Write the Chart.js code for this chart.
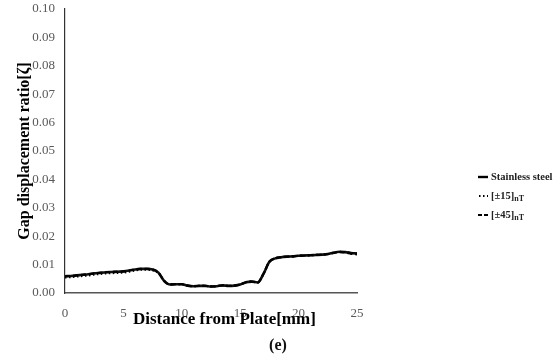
<!DOCTYPE html>
<html>
<head>
<meta charset="utf-8">
<script src="https://cdn.jsdelivr.net/npm/chart.js@4"></script>
<style>
  html, body { margin: 0; padding: 0; background: #fff; }
  #wrap { position: relative; width: 556px; height: 364px; }
  canvas { position: absolute; left: 0; top: 0; }
  #legend { position: absolute; left: 478px; top: 167px; font-family: "Liberation Serif", serif; font-weight: bold; font-size: 10.5px; color: #222; }
  #legend .item { display: flex; align-items: center; height: 19px; white-space: nowrap; }
  #legend svg { margin-right: 3px; }
  #legend sub { font-size: 8px; vertical-align: -2px; line-height: 0; }
  #xtitle { position: absolute; left: 133px; width: 180px; top: 309px; text-align: center; font-family: "Liberation Serif", serif; font-weight: bold; font-size: 17px; color: #000; white-space: nowrap; }
  #caption { position: absolute; left: 0; width: 556px; top: 336px; text-align: center; font-family: "Liberation Serif", serif; font-weight: bold; font-size: 16px; color: #111; }
</style>
</head>
<body>
<div id="wrap">
  <canvas id="c" width="556" height="364"></canvas>
  <div id="xtitle">Distance from Plate[mm]</div>
  <div id="legend"></div>
  <div id="caption">(e)</div>
</div>
<script>
const distance = [0,0.5,1,1.5,2,2.5,3,3.5,4,4.5,5,5.5,6,6.5,7,7.5,8,8.5,9,9.5,10,10.5,11,11.5,12,12.5,13,13.5,14,14.5,15,15.5,16,16.5,17,17.5,18,18.5,19,19.5,20,20.5,21,21.5,22,22.5,23,23.5,24,24.5,25];
const stainless = [0.0059,0.0060,0.0062,0.0064,0.0066,0.0069,0.0071,0.0073,0.0074,0.0075,0.0076,0.0079,0.0083,0.0085,0.0085,0.0083,0.0072,0.0042,0.0030,0.0031,0.0031,0.0026,0.0024,0.0025,0.0025,0.0023,0.0024,0.0027,0.0025,0.0026,0.0030,0.0038,0.0040,0.0037,0.0068,0.0110,0.0122,0.0126,0.0128,0.0129,0.0131,0.0132,0.0133,0.0134,0.0135,0.0137,0.0142,0.0145,0.0144,0.0141,0.0139];
const pm15 = [0.0055,0.0056,0.0058,0.0060,0.0062,0.0065,0.0067,0.0069,0.0070,0.0071,0.0072,0.0075,0.0079,0.0082,0.0082,0.0080,0.0070,0.0042,0.0030,0.0031,0.0031,0.0026,0.0024,0.0025,0.0025,0.0023,0.0024,0.0027,0.0025,0.0026,0.0030,0.0038,0.0040,0.0037,0.0068,0.0110,0.0122,0.0126,0.0128,0.0129,0.0131,0.0132,0.0133,0.0134,0.0135,0.0137,0.0142,0.0145,0.0144,0.0141,0.0139];
const pm45 = [0.0059,0.0060,0.0062,0.0064,0.0066,0.0069,0.0071,0.0073,0.0074,0.0075,0.0076,0.0079,0.0083,0.0085,0.0085,0.0083,0.0072,0.0042,0.0030,0.0031,0.0031,0.0026,0.0024,0.0025,0.0025,0.0023,0.0024,0.0027,0.0025,0.0026,0.0030,0.0038,0.0040,0.0037,0.0068,0.0110,0.0122,0.0126,0.0128,0.0129,0.0131,0.0132,0.0133,0.0134,0.0135,0.0137,0.0141,0.0144,0.0142,0.0138,0.0136];
const seriesNames = ["Stainless steel", "[±15]", "[±45]"];
const seriesSubs = ["", "nT", "nT"];
const xTicks = [0,5,10,15,20,25];

function pts(ys) { return distance.map((x, i) => ({x: x, y: ys[i]})); }

const serif = "'Liberation Serif', 'Times New Roman', serif";
const dashes = [[], [1.5, 2.5], [5, 3]];
const widths = [2.6, 2.2, 2.2];

new Chart(document.getElementById('c'), {
  type: 'line',
  data: {
    datasets: [
      { label: seriesNames[1], data: pts(pm15), borderColor: '#000', borderWidth: widths[1], borderDash: dashes[1], pointRadius: 0, tension: 0.4, cubicInterpolationMode: 'monotone', fill: false },
      { label: seriesNames[2], data: pts(pm45), borderColor: '#000', borderWidth: widths[2], borderDash: dashes[2], pointRadius: 0, tension: 0.4, cubicInterpolationMode: 'monotone', fill: false },
      { label: seriesNames[0], data: pts(stainless), borderColor: '#111', borderWidth: widths[0], pointRadius: 0, tension: 0.4, cubicInterpolationMode: 'monotone', fill: false }
    ]
  },
  options: {
    responsive: false,
    animation: false,
    events: [],
    layout: { padding: { left: 0, right: 199, top: 9, bottom: 0 } },
    plugins: { legend: { display: false }, tooltip: { enabled: false } },
    scales: {
      x: {
        type: 'linear', min: 0, max: 25,
        afterBuildTicks: s => { s.ticks = xTicks.map(v => ({value: v})); },
        afterFit: s => { s.height = 71; s.paddingLeft = 0; s.paddingRight = 0; },
        grid: { display: true, drawOnChartArea: false, drawTicks: false },
        border: { display: true, color: '#555', width: 1.5 },
        ticks: { padding: 13, color: '#595959', font: { family: serif, size: 13 }, maxRotation: 0 },
        title: { display: false }
      },
      y: {
        min: 0, max: 0.1,
        ticks: { stepSize: 0.01, padding: 10, color: '#595959', font: { family: serif, size: 13 }, callback: v => v.toFixed(2) },
        afterFit: s => { s.width = 65; s.paddingTop = 0; s.paddingBottom = 0; },
        grid: { display: true, drawOnChartArea: false, drawTicks: false },
        border: { display: true, color: '#333', width: 1.2 },
        title: { display: true, text: 'Gap displacement ratio[ζ]', color: '#000', font: { family: serif, size: 16, weight: 'bold' }, padding: { top: 15, bottom: 15 } }
      }
    }
  }
});

const legend = document.getElementById('legend');
const svgLines = [
  '<line x1="0" y1="5" x2="10" y2="5" stroke="#000" stroke-width="2.4"/>',
  '<line x1="1" y1="5" x2="10" y2="5" stroke="#000" stroke-width="2" stroke-dasharray="1.5 2.5"/>',
  '<line x1="0" y1="5" x2="10" y2="5" stroke="#000" stroke-width="2" stroke-dasharray="4 2"/>'
];
seriesNames.forEach((name, i) => {
  const d = document.createElement('div');
  d.className = 'item';
  d.innerHTML = '<svg width="10" height="10">' + svgLines[i] + '</svg><span>' + name + (seriesSubs[i] ? '<sub>' + seriesSubs[i] + '</sub>' : '') + '</span>';
  legend.appendChild(d);
});
</script>
</body>
</html>
